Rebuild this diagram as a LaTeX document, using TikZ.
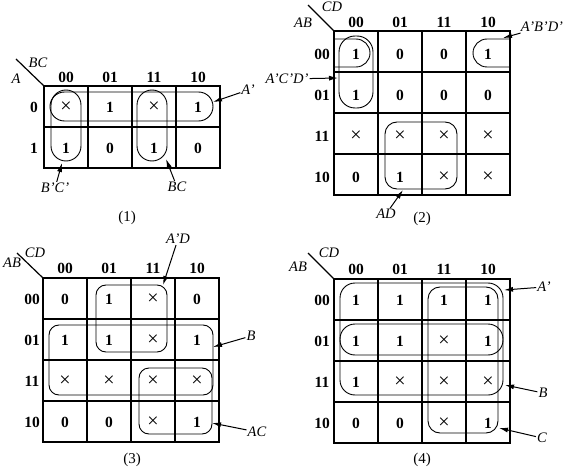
\documentclass[tikz,border=0pt]{standalone}
\usepackage{fontspec}
\setmainfont{Liberation Serif}
\usetikzlibrary{arrows.meta}
\newcommand{\dontcare}{{\mdseries\fontsize{20}{20}\selectfont ×}}

\begin{document}
\begin{tikzpicture}[x=1pt,y=-1pt,
		gridline/.style={line width=1.5pt},
		val/.style={font=\fontsize{15.5}{17}\selectfont\bfseries, inner sep=1pt},
		var/.style={font=\fontsize{14.5}{17}\selectfont\itshape, inner sep=1pt},
		mapcaption/.style={font=\fontsize{15}{17}\selectfont, inner sep=1pt},
		ring/.style={line width=0.9pt},
		arr/.style={-{Latex[length=9pt,width=5pt]}, line width=1pt}]
	\useasboundingbox (0,0) rectangle (565,468);

	% map (1)
	\begin{scope}[shift={(44,86)}]
		\draw[gridline] (0,0) rectangle (176,82);
		\foreach \c in {1,2,3} \draw[gridline] (44*\c,0) -- (44*\c,82);
		\draw[gridline] (0,41) -- (176,41);
		\draw[line width=1.2pt] (0,0) -- (-28,-27);
		\node[var] (m1-top) at (-6,-23) {BC};
		\node[var] (m1-left) at (-28,-7) {A};
		\foreach \h [count=\c from 0] in {00,01,11,10}
			\node[val] (m1-col\c) at (44*\c+22,-9) {\h};
		\foreach \h [count=\r from 0] in {0,1}
			\node[val] (m1-row\r) at (-10,41*\r+21) {\h};
		\foreach \r/\row in {0/{\dontcare,1,\dontcare,1},1/{1,0,1,0}}
			\foreach \v [count=\c from 0] in \row
				\node[val] (m1-\r-\c) at (44*\c+22,41*\r+21) {\v};
	\end{scope}
	\draw[ring, rounded corners=14.5pt] (50,92) rectangle (213,121);
	\draw[ring, rounded corners=15pt] (51,90) rectangle (81,161);
	\draw[ring, rounded corners=15pt] (137,90) rectangle (167,161);
	\node[var] (m1-A) at (248,90) {A'};
	\node[var] (m1-nBC) at (55,188) {B'C'};
	\node[var] (m1-BC) at (177,187) {BC};
	\coordinate (m1-tipA) at (213,102);
	\coordinate (m1-tipnBC) at (62,163);
	\coordinate (m1-tipBC) at (166,159);
	\draw[arr] (m1-A) -- (m1-tipA);
	\draw[arr] (m1-nBC) -- (m1-tipnBC);
	\draw[arr] (m1-BC) -- (m1-tipBC);
	\node[mapcaption] (cap1) at (127,218) {(1)};

	% map (2)
	\begin{scope}[shift={(334,31)}]
		\draw[gridline] (0,0) rectangle (176,164);
		\foreach \c in {1,2,3} \draw[gridline] (44*\c,0) -- (44*\c,164);
		\foreach \r in {1,2,3} \draw[gridline] (0,41*\r) -- (176,41*\r);
		\draw[line width=1.2pt] (0,0) -- (-26,-26);
		\node[var] (m2-top) at (-2,-24) {CD};
		\node[var] (m2-left) at (-31,-8) {AB};
		\foreach \h [count=\c from 0] in {00,01,11,10}
			\node[val] (m2-col\c) at (44*\c+22,-9) {\h};
		\foreach \h [count=\r from 0] in {00,01,11,10}
			\node[val] (m2-row\r) at (-12,41*\r+23) {\h};
		\foreach \r/\row in {0/{1,0,0,1},1/{1,0,0,0},
				2/{\dontcare,\dontcare,\dontcare,\dontcare},3/{0,1,\dontcare,\dontcare}}
			\foreach \v [count=\c from 0] in \row
				\node[val] (m2-\r-\c) at (44*\c+22,41*\r+23) {\v};
	\end{scope}
	\draw[ring, rounded corners=16pt] (339,36) rectangle (373,108);
	\draw[ring, rounded corners=14pt] (334,39) -- (370,39) -- (370,67) -- (334,67);
	\draw[ring, rounded corners=14pt] (510,39) -- (473,39) -- (473,67) -- (510,67);
	\draw[ring, rounded corners=12pt] (385,122) rectangle (457,189);
	\node[var] (m2-ABD) at (542,27) {A'B'D'};
	\node[var] (m2-ACD) at (287,79) {A'C'D'};
	\node[var] (m2-AD) at (386,214) {AD};
	\coordinate (m2-tipABD) at (503,38);
	\coordinate (m2-tipACD) at (338,78);
	\coordinate (m2-tipAD) at (403,190);
	\draw[arr] (m2-ABD) -- (m2-tipABD);
	\draw[arr] (m2-ACD) -- (m2-tipACD);
	\draw[arr] (m2-AD) -- (m2-tipAD);
	\node[mapcaption] (cap2) at (422,219) {(2)};

	% map (3)
	\begin{scope}[shift={(43,278)}]
		\draw[gridline] (0,0) rectangle (176,164);
		\foreach \c in {1,2,3} \draw[gridline] (44*\c,0) -- (44*\c,164);
		\foreach \r in {1,2,3} \draw[gridline] (0,41*\r) -- (176,41*\r);
		\draw[line width=1.2pt] (0,0) -- (-26,-25);
		\node[var] (m3-top) at (-8,-25) {CD};
		\node[var] (m3-left) at (-31,-15) {AB};
		\foreach \h [count=\c from 0] in {00,01,11,10}
			\node[val] (m3-col\c) at (44*\c+22,-10) {\h};
		\foreach \h [count=\r from 0] in {00,01,11,10}
			\node[val] (m3-row\r) at (-11,41*\r+21) {\h};
		\foreach \r/\row in {0/{0,1,\dontcare,0},1/{1,1,\dontcare,1},
				2/{\dontcare,\dontcare,\dontcare,\dontcare},3/{0,0,\dontcare,1}}
			\foreach \v [count=\c from 0] in \row
				\node[val] (m3-\r-\c) at (44*\c+22,41*\r+21) {\v};
	\end{scope}
	\draw[ring, rounded corners=10pt] (96,285) rectangle (167,352);
	\draw[ring, rounded corners=10pt] (49,325) rectangle (213,395);
	\draw[ring, rounded corners=10pt] (139,368) rectangle (212,434);
	\node[var] (m3-AD) at (178,239) {A'D};
	\node[var] (m3-B) at (251,336) {B};
	\node[var] (m3-AC) at (257,432) {AC};
	\coordinate (m3-tipAD) at (163,285);
	\coordinate (m3-tipB) at (213,347);
	\coordinate (m3-tipAC) at (212,423);
	\draw[arr] (m3-AD) -- (m3-tipAD);
	\draw[arr] (m3-B) -- (m3-tipB);
	\draw[arr] (m3-AC) -- (m3-tipAC);
	\node[mapcaption] (cap3) at (132,460) {(3)};

	% map (4)
	\begin{scope}[shift={(334,279)}]
		\draw[gridline] (0,0) rectangle (176,164);
		\foreach \c in {1,2,3} \draw[gridline] (44*\c,0) -- (44*\c,164);
		\foreach \r in {1,2,3} \draw[gridline] (0,41*\r) -- (176,41*\r);
		\draw[line width=1.2pt] (0,0) -- (-26,-26);
		\node[var] (m4-top) at (-5,-26) {CD};
		\node[var] (m4-left) at (-36,-12) {AB};
		\foreach \h [count=\c from 0] in {00,01,11,10}
			\node[val] (m4-col\c) at (44*\c+22,-10) {\h};
		\foreach \h [count=\r from 0] in {00,01,11,10}
			\node[val] (m4-row\r) at (-12,41*\r+21) {\h};
		\foreach \r/\row in {0/{1,1,1,1},1/{1,1,\dontcare,1},
				2/{1,\dontcare,\dontcare,\dontcare},3/{0,0,\dontcare,1}}
			\foreach \v [count=\c from 0] in \row
				\node[val] (m4-\r-\c) at (44*\c+22,41*\r+21) {\v};
	\end{scope}
	\draw[ring, rounded corners=15pt] (340,283) rectangle (503,355);
	\draw[ring, rounded corners=15pt] (340,324) rectangle (503,395);
	\draw[ring, rounded corners=12pt] (428,287) rectangle (498,433);
	\node[var] (m4-A) at (544,287) {A'};
	\node[var] (m4-B) at (543,393) {B};
	\node[var] (m4-C) at (542,438) {C};
	\coordinate (m4-tipA) at (504,290);
	\coordinate (m4-tipB) at (505,385);
	\coordinate (m4-tipC) at (499,428);
	\draw[arr] (m4-A) -- (m4-tipA);
	\draw[arr] (m4-B) -- (m4-tipB);
	\draw[arr] (m4-C) -- (m4-tipC);
	\node[mapcaption] (cap4) at (422,460) {(4)};
\end{tikzpicture}
\end{document}
